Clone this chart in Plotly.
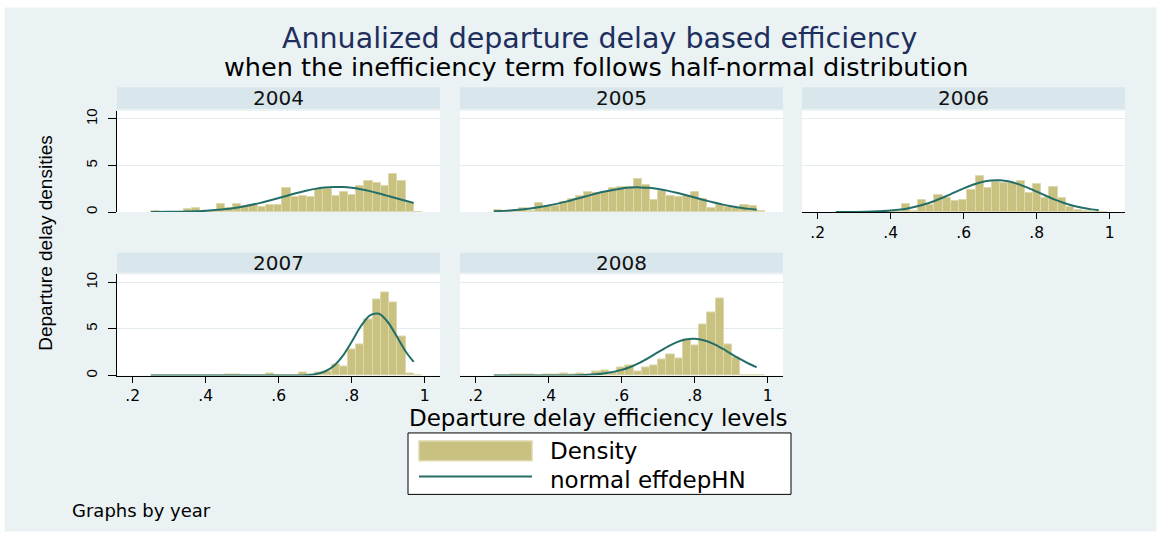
import plotly.graph_objects as go

##########################
# DATA
##########################
years = ['2004', '2005', '2006', '2007', '2008']

# histogram bins shared by every year: left edges, width 0.0225
bin_left = [0.25, 0.2725, 0.295, 0.3175, 0.34, 0.3625, 0.385, 0.4075, 0.43, 0.4525,
            0.475, 0.4975, 0.52, 0.5425, 0.565, 0.5875, 0.61, 0.6325, 0.655, 0.6775,
            0.70, 0.7225, 0.745, 0.7675, 0.79, 0.8125, 0.835, 0.8575, 0.88, 0.9025,
            0.925, 0.9475, 0.97]
bin_width = 0.0225

density_2004 = [0.1, 0, 0, 0, 0.28, 0.4, 0, 0, 0.82, 0.45,
                0.89, 0.6, 0.8, 0.53, 0.74, 0.74, 2.59, 1.62, 1.7, 1.6,
                2.45, 2.48, 1.68, 2.13, 1.86, 2.84, 3.37, 3.07, 2.84, 4.08,
                3.37, 1.0, 0]
density_2005 = [0.18, 0.05, 0.12, 0.45, 0.15, 0.95, 0.5, 0.7, 1.1, 1.4,
                1.7, 2.2, 2.0, 2.15, 2.6, 2.7, 2.65, 3.55, 2.9, 1.33,
                2.25, 1.7, 1.65, 1.75, 2.18, 1.4, 0.48, 0.72, 0.55, 0.45,
                0.8, 0.6, 0.12]
density_2006 = [0, 0, 0, 0, 0, 0, 0, 0, 0.82, 0.15,
                1.28, 0.72, 1.8, 1.5, 1.15, 1.3, 2.38, 3.88, 2.6, 3.25,
                3.12, 3.1, 3.35, 2.0, 3.0, 1.56, 2.7, 1.54, 0.5, 0.2,
                0.1, 0, 0]
density_2007 = [0, 0, 0, 0, 0, 0, 0, 0, 0, 0.15,
                0.15, 0, 0, 0, 0.18, 0, 0, 0, 0.28, 0.08,
                0.28, 0.46, 1.15, 1.0, 2.77, 3.3, 6.0, 8.18, 8.9, 7.82,
                4.18, 0.2, 0]
density_2008 = [0.05, 0, 0.1, 0.1, 0.1, 0.05, 0.1, 0.15, 0.2, 0.15,
                0.2, 0.15, 0.39, 0.53, 0.3, 0.89, 1.03, 0.43, 0.82, 1.06,
                1.72, 2.23, 1.88, 3.85, 3.19, 5.43, 6.8, 8.26, 3.3, 1.95,
                0, 0, 0]

# fitted normal density (normal effdepHN), read at these x points
curve_x = [0.25, 0.30, 0.35, 0.40, 0.45, 0.50, 0.55, 0.60, 0.625, 0.65, 0.675, 0.70,
           0.725, 0.75, 0.775, 0.80, 0.825, 0.85, 0.875, 0.90, 0.925, 0.95, 0.97]
normal_2004 = [0.007, 0.022, 0.058, 0.140, 0.301, 0.577, 0.986, 1.506, 1.781, 2.049, 2.290, 2.487,
               2.625, 2.694, 2.686, 2.603, 2.452, 2.244, 1.996, 1.726, 1.450, 1.184, 0.986]
normal_2005 = [0.085, 0.192, 0.388, 0.704, 1.144, 1.666, 2.172, 2.534, 2.627, 2.648, 2.598, 2.479,
               2.301, 2.078, 1.825, 1.560, 1.296, 1.048, 0.824, 0.631, 0.470, 0.340, 0.257]
normal_2006 = [0.003, 0.013, 0.049, 0.156, 0.413, 0.909, 1.665, 2.541, 2.929, 3.225, 3.392, 3.407,
               3.270, 2.997, 2.623, 2.193, 1.752, 1.336, 0.974, 0.678, 0.450, 0.286, 0.192]
normal_2007 = [0, 0, 0, 0, 0, 0, 0, 0, 0.002, 0.009, 0.039, 0.137,
               0.404, 1.001, 2.082, 3.622, 5.284, 6.462, 6.624, 5.691, 4.096, 2.472, 1.454]
normal_2008 = [0, 0, 0, 0.002, 0.011, 0.054, 0.203, 0.601, 0.943, 1.389, 1.927, 2.515,
               3.085, 3.561, 3.866, 3.947, 3.790, 3.424, 2.909, 2.325, 1.748, 1.235, 0.895]

x_tickvals = [0.2, 0.4, 0.6, 0.8, 1.0]
x_ticktext = ['.2', '.4', '.6', '.8', '1']
y_tickvals = [0, 5, 10]
y_ticktext = ['0', '5', '10']

densities = [density_2004, density_2005, density_2006, density_2007, density_2008]
normals = [normal_2004, normal_2005, normal_2006, normal_2007, normal_2008]

##########################
# LAYOUT HELPERS (pixel positions)
##########################
W, H = 1161, 538
BG = '#EAF2F3'
STRIP = '#D9E6EB'
BAR = '#C9C180'
BAR_EDGE = '#DDD8AE'
LINE = '#246E68'
WIDE = 'DejaVu Sans'
NARROW = 'Liberation Sans, Arial'


def px(x):
    return x / W


def py(y):
    return 1 - y / H


col_px = [(117, 440), (460, 783), (802, 1125)]
row_px = [(109, 211), (274, 376)]
strip_px = [(85, 107), (252, 272)]
# (row, col) of each year; x labels shown on 2006, 2007, 2008, y labels on left column
panel_pos = [(0, 0), (0, 1), (0, 2), (1, 0), (1, 1)]
show_x = [False, False, True, True, True]

fig = go.Figure()
shapes = []
annotations = []

for i, year in enumerate(years):
    n = i + 1
    r, c = panel_pos[i]
    xa = 'x' if n == 1 else 'x%d' % n
    ya = 'y' if n == 1 else 'y%d' % n

    fig.add_trace(go.Bar(
        x=bin_left, y=densities[i], width=bin_width, offset=0,
        marker_color=BAR, marker_line_color=BAR_EDGE, marker_line_width=1,
        xaxis=xa, yaxis=ya, showlegend=False, hoverinfo='skip'))
    fig.add_trace(go.Scatter(
        x=curve_x, y=normals[i], mode='lines',
        line=dict(color=LINE, width=2, shape='spline', smoothing=0.8),
        xaxis=xa, yaxis=ya, showlegend=False, hoverinfo='skip'))

    xkey = 'xaxis' if n == 1 else 'xaxis%d' % n
    ykey = 'yaxis' if n == 1 else 'yaxis%d' % n
    left = c == 0
    fig.layout[xkey] = dict(
        domain=[px(col_px[c][0]), px(col_px[c][1])],
        anchor=ya, range=[0.157, 1.042],
        tickvals=x_tickvals, ticktext=x_ticktext,
        showticklabels=show_x[i], showline=show_x[i],
        ticks='outside' if show_x[i] else '', ticklen=6, tickwidth=1.3, tickcolor='black',
        linecolor='black', linewidth=1.3, showgrid=False, zeroline=False,
        tickfont=dict(family=WIDE, size=15.5, color='black'))
    fig.layout[ykey] = dict(
        domain=[py(row_px[r][1]), py(row_px[r][0])],
        anchor=xa, range=[0, 10.85],
        tickvals=y_tickvals, ticktext=y_ticktext,
        showticklabels=left, showline=left,
        ticks='outside' if left else '', ticklen=8, tickwidth=1.3, tickcolor='black',
        linecolor='black', linewidth=1.3, ticklabelstandoff=5,
        showgrid=True, gridcolor='#E3ECEF', gridwidth=1, zeroline=False,
        tickangle=-90, tickfont=dict(family=NARROW, size=15, color='black'))

    # strip header
    shapes.append(dict(type='rect', xref='paper', yref='paper', layer='below',
                       x0=px(col_px[c][0]), x1=px(col_px[c][1]),
                       y0=py(strip_px[r][1]), y1=py(strip_px[r][0]),
                       fillcolor=STRIP, line_width=0))
    annotations.append(dict(text=year, xref='paper', yref='paper', showarrow=False,
                            x=px((col_px[c][0] + col_px[c][1]) / 2),
                            y=py((strip_px[r][0] + strip_px[r][1]) / 2),
                            xanchor='center', yanchor='middle',
                            font=dict(family=WIDE, size=20, color='#111111')))

# white frame round the graph region
shapes.append(dict(type='rect', xref='paper', yref='paper', x0=0, x1=1, y0=0, y1=1,
                   line=dict(color='white', width=9), fillcolor='rgba(0,0,0,0)', layer='above'))

# titles
annotations.append(dict(text='Annualized departure delay based efficiency', xref='paper', yref='paper',
                        x=px(599), y=py(36), showarrow=False, xanchor='center', yanchor='middle',
                        font=dict(family=WIDE, size=28.5, color='#1E2F5E')))
annotations.append(dict(text='when the inefficiency term follows half-normal distribution', xref='paper',
                        yref='paper', x=px(596), y=py(65), showarrow=False, xanchor='center',
                        yanchor='middle', font=dict(family=WIDE, size=25.5, color='black')))
# axis titles
annotations.append(dict(text='Departure delay densities', xref='paper', yref='paper', x=px(46), y=py(243),
                        showarrow=False, textangle=-90, xanchor='center', yanchor='middle',
                        font=dict(family=NARROW, size=19, color='black')))
annotations.append(dict(text='Departure delay efficiency levels', xref='paper', yref='paper', x=px(598),
                        y=py(419), showarrow=False, xanchor='center', yanchor='middle',
                        font=dict(family=WIDE, size=23, color='black')))
annotations.append(dict(text='Graphs by year', xref='paper', yref='paper', x=px(70), y=py(512),
                        showarrow=False, xanchor='left', yanchor='middle',
                        font=dict(family=WIDE, size=18, color='black')))

# legend box
shapes.append(dict(type='rect', xref='paper', yref='paper', x0=px(408), x1=px(791), y0=py(496), y1=py(434),
                   fillcolor='white', line=dict(color='black', width=1)))
shapes.append(dict(type='rect', xref='paper', yref='paper', x0=px(419), x1=px(532), y0=py(462), y1=py(442),
                   fillcolor=BAR, line=dict(color=BAR_EDGE, width=1.5)))
shapes.append(dict(type='line', xref='paper', yref='paper', x0=px(419), x1=px(532), y0=py(478), y1=py(478),
                   line=dict(color=LINE, width=2)))
annotations.append(dict(text='Density', xref='paper', yref='paper', x=px(548), y=py(452),
                        showarrow=False, xanchor='left', yanchor='middle',
                        font=dict(family=WIDE, size=23, color='black')))
annotations.append(dict(text='normal effdepHN', xref='paper', yref='paper', x=px(548), y=py(481),
                        showarrow=False, xanchor='left', yanchor='middle',
                        font=dict(family=WIDE, size=23, color='black')))

fig.update_layout(
    width=W, height=H,
    margin={'t': 0, 'l': 0, 'r': 0, 'b': 0},
    paper_bgcolor=BG,
    plot_bgcolor='white',
    bargap=0,
    showlegend=False,
    shapes=shapes,
    annotations=annotations,
)

# drop the page's default body margin so the figure sits at the window's corner
fig.write_html("out.html", config={'displayModeBar': False},
               post_script="document.body.style.margin = '0';")
